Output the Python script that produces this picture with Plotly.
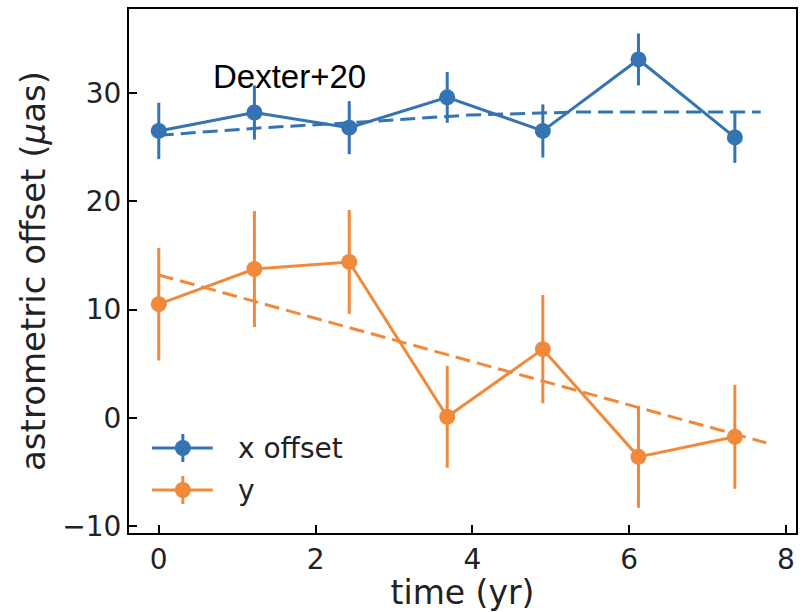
import plotly.graph_objects as go

# data
time_yr = [0.0, 1.22, 2.43, 3.68, 4.90, 6.12, 7.35]
x_offset = [26.5, 28.2, 26.8, 29.6, 26.5, 33.1, 25.9]
x_err = [2.6, 2.5, 2.45, 2.35, 2.45, 2.4, 2.35]
y_offset = [10.5, 13.75, 14.4, 0.1, 6.35, -3.6, -1.75]
y_err = [5.2, 5.35, 4.8, 4.7, 5.0, 4.7, 4.8]

xfit_t = [0.0, 1.28, 2.39, 3.96, 5.36, 7.68]
xfit_v = [26.1, 26.77, 27.23, 27.97, 28.25, 28.25]
yfit_t = [0.0, 7.75]
yfit_v = [13.2, -2.3]

series_names = ["x offset", "y"]

BLUE = "#3474b2"
ORANGE = "#f08a3a"
colors = [BLUE, ORANGE]

fig = go.Figure()
fig.add_trace(go.Scatter(
    x=time_yr, y=x_offset, mode="lines+markers", name=series_names[0],
    line=dict(color=BLUE, width=3), marker=dict(color=BLUE, size=16),
    error_y=dict(type="data", array=x_err, color=BLUE, thickness=3, width=0),
    showlegend=False))
fig.add_trace(go.Scatter(
    x=time_yr, y=y_offset, mode="lines+markers", name=series_names[1],
    line=dict(color=ORANGE, width=3), marker=dict(color=ORANGE, size=16),
    error_y=dict(type="data", array=y_err, color=ORANGE, thickness=3, width=0),
    showlegend=False))
fig.add_trace(go.Scatter(
    x=xfit_t, y=xfit_v, mode="lines", showlegend=False,
    line=dict(color=BLUE, width=3, dash="15px,7px")))
fig.add_trace(go.Scatter(
    x=yfit_t, y=yfit_v, mode="lines", showlegend=False,
    line=dict(color=ORANGE, width=3, dash="15px,7px")))

fig.add_annotation(x=1.67, y=31.5, xref="x", yref="y", text="Dexter+20",
                   showarrow=False,
                   font=dict(family="Liberation Sans", size=33, color="black"))

# hand-drawn legend (matplotlib style: line + marker + error bar)
L, R, T, B = 129, 798, 9, 533
def px(xp):
    return (xp - L) / (R - L)
def py(yp):
    return (B - yp) / (B - T)

for i, (name, col) in enumerate(zip(series_names, colors)):
    yc = 448 + 42 * i
    fig.add_shape(type="line", xref="paper", yref="paper",
                  x0=px(152), x1=px(213), y0=py(yc), y1=py(yc),
                  line=dict(color=col, width=3))
    fig.add_shape(type="line", xref="paper", yref="paper",
                  x0=px(183), x1=px(183), y0=py(yc - 14), y1=py(yc + 14),
                  line=dict(color=col, width=3))
    fig.add_shape(type="circle", xref="paper", yref="paper",
                  x0=px(175), x1=px(191), y0=py(yc - 8), y1=py(yc + 8),
                  fillcolor=col, line=dict(color=col, width=0))
    fig.add_annotation(x=px(236), y=py(yc), xref="paper", yref="paper",
                       text=name, showarrow=False, xanchor="left",
                       yanchor="middle",
                       font=dict(family="DejaVu Sans", size=28, color="#222"))

axis_common = dict(showgrid=False, zeroline=False, showline=True, mirror=True,
                   linecolor="black", linewidth=2, ticks="inside", ticklen=8,
                   tickwidth=2, tickcolor="black",
                   tickfont=dict(family="DejaVu Sans", size=28, color="#222"))

fig.update_xaxes(range=[-0.38, 8.13], tickvals=[0, 2, 4, 6, 8],
                 title=dict(text="time (yr)", standoff=2,
                            font=dict(family="DejaVu Sans", size=33, color="#222")),
                 **axis_common)
fig.update_yaxes(range=[-10.63, 37.76], tickvals=[-10, 0, 10, 20, 30],
                 ticktext=["\u221210", "0", "10", "20", "30"],
                 title=dict(text="astrometric offset (<i>\u03bc</i>as)", standoff=6,
                            font=dict(family="DejaVu Sans", size=34, color="#222")),
                 **axis_common)

fig.update_layout(
    width=802, height=612,
    margin=dict(l=129, r=4, t=9, b=79),
    paper_bgcolor="white", plot_bgcolor="white",
    showlegend=False,
)

fig.write_html("out.html")
